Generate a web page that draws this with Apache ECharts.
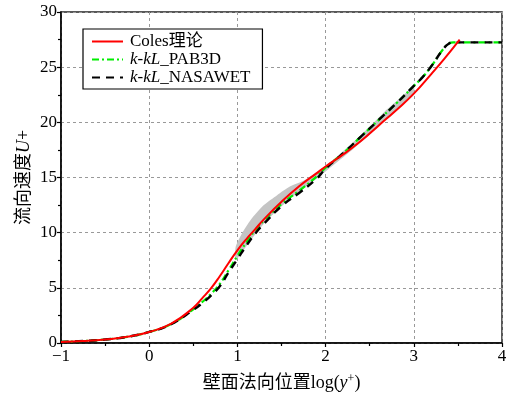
<!DOCTYPE html>
<html>
<head>
<meta charset="utf-8">
<script src="https://cdn.jsdelivr.net/npm/echarts@6/dist/echarts.min.js"></script>
<style>html,body{margin:0;padding:0;background:#fff;}#c{width:511px;height:399px;}</style>
</head>
<body>
<div id="c"></div>
<script>
// log(y+) positions and U+ values
const colesX = [-1, -0.75, -0.5, -0.25, 0, 0.25, 0.5, 0.6, 0.7, 0.8, 0.9, 1.0, 1.1, 1.2, 1.3, 1.5, 1.7, 1.9, 2.0, 2.2, 2.4, 2.6, 2.8, 3.0, 3.2, 3.35, 3.52];
const colesU = [0.1, 0.18, 0.32, 0.56, 1.0, 1.75, 3.2, 4.05, 4.95, 6.05, 7.25, 8.4, 9.4, 10.3, 11.2, 12.8, 14.2, 15.4, 16.0, 17.1, 18.3, 19.7, 21.1, 22.6, 24.4, 25.8, 27.5];

const cfdX = [-1, -0.75, -0.5, -0.25, 0, 0.25, 0.5, 0.6, 0.7, 0.8, 0.9, 1.0, 1.1, 1.2, 1.3, 1.5, 1.7, 1.9, 2.0, 2.2, 2.4, 2.6, 2.8, 3.0, 3.1, 3.2, 3.33, 3.4, 3.45, 3.6, 4.0];
const pab3dU = [0.1, 0.18, 0.32, 0.56, 1.0, 1.72, 3.05, 3.7, 4.45, 5.35, 6.6, 7.9, 9.1, 10.2, 11.1, 12.6, 13.8, 15.1, 15.9, 17.2, 18.7, 20.2, 21.7, 23.3, 24.1, 25.1, 26.6, 27.15, 27.25, 27.25, 27.25];
const nasawetU = [0.1, 0.18, 0.32, 0.56, 1.0, 1.71, 3.0, 3.6, 4.3, 5.15, 6.4, 7.6, 8.8, 9.9, 10.8, 12.4, 13.6, 14.9, 15.8, 17.2, 18.7, 20.2, 21.7, 23.3, 24.1, 25.1, 26.6, 27.15, 27.25, 27.25, 27.25];

// grey scatter band (lower and upper edges)
const bandX = [0.98, 1.05, 1.15, 1.3, 1.45, 1.6, 1.75, 1.9, 2.1, 2.3, 2.5, 2.7, 2.9, 3.0];
const bandLow = [7.5, 8.2, 9.3, 10.8, 12.0, 13.1, 14.0, 14.9, 16.2, 17.5, 18.9, 20.4, 21.8, 22.5];
const bandHigh = [8.7, 9.9, 11.15, 12.5, 13.4, 14.2, 14.7, 15.5, 16.7, 18.1, 19.6, 21.2, 22.6, 23.3];

const xTicks = [-1, 0, 1, 2, 3, 4];
const yTicks = [0, 5, 10, 15, 20, 25, 30];

const seriesNames = ['Coles理论', 'k-kL_PAB3D', 'k-kL_NASAWET'];

const pairs = (xs, ys) => xs.map((x, i) => [x, ys[i]]);
const FONT = "'Liberation Serif','Noto Sans CJK SC',serif";

const chart = echarts.init(document.getElementById('c'), null, {renderer: 'canvas'});
chart.setOption({
  animation: false,
  backgroundColor: '#fff',
  grid: {left: 61, right: 9, top: 12, bottom: 56, show: true, borderColor: '#222', borderWidth: 1.5, backgroundColor: 'transparent'},
  legend: {
    data: seriesNames,
    orient: 'vertical',
    left: 83, top: 29,
    padding: [4, 12, 3, 8],
    itemGap: 1,
    itemWidth: 31, itemHeight: 14,
    borderColor: '#000', borderWidth: 1.2, borderRadius: 0,
    backgroundColor: '#fff',
    itemStyle: {opacity: 0},
    formatter: function (n) {
      if (n.indexOf('k-kL_') === 0) return '{i|k-kL}_' + n.slice(5);
      return n;
    },
    textStyle: {
      fontFamily: FONT, fontSize: 17, color: '#000', padding: [0, 0, 0, 2],
      rich: {i: {fontFamily: FONT, fontSize: 17, fontStyle: 'italic', color: '#000'}}
    }
  },
  xAxis: {
    type: 'value', min: xTicks[0], max: xTicks[xTicks.length - 1], interval: 1,
    name: '壁面法向位置log({i|y}{s|+})',
    nameLocation: 'middle', nameGap: 30, nameMoveOverlap: false,
    nameTextStyle: {
      fontFamily: FONT, fontSize: 18, color: '#000',
      rich: {
        i: {fontFamily: FONT, fontSize: 18, fontStyle: 'italic', color: '#000'},
        s: {fontFamily: FONT, fontSize: 12, color: '#000', verticalAlign: 'top', padding: [0, 0, 8, 0]}
      }
    },
    axisLine: {show: true, onZero: false, lineStyle: {color: '#000', width: 1.5}},
    axisTick: {show: true, inside: false, length: 4, lineStyle: {color: '#000', width: 1.2}},
    minorTick: {show: true, splitNumber: 2, length: 3, lineStyle: {color: '#000', width: 1.2}},
    axisLabel: {fontFamily: FONT, fontSize: 17, color: '#000', margin: 5,
      formatter: v => (v < 0 ? '\u2212' + Math.abs(v) : String(v))},
    splitLine: {show: true, lineStyle: {color: '#999', type: [3, 3], width: 1}}
  },
  yAxis: {
    type: 'value', min: yTicks[0], max: yTicks[yTicks.length - 1], interval: 5,
    name: '流向速度{i|U}+',
    nameLocation: 'middle', nameGap: 28, nameRotate: 90, nameMoveOverlap: false,
    nameTextStyle: {
      fontFamily: FONT, fontSize: 18, color: '#000',
      rich: {i: {fontFamily: FONT, fontSize: 18, fontStyle: 'italic', color: '#000'}}
    },
    axisLine: {show: true, onZero: false, lineStyle: {color: '#000', width: 1.5}},
    axisTick: {show: true, inside: false, length: 4, lineStyle: {color: '#000', width: 1.2}},
    minorTick: {show: true, splitNumber: 2, length: 3, lineStyle: {color: '#000', width: 1.2}},
    axisLabel: {fontFamily: FONT, fontSize: 17, color: '#000', margin: 4},
    splitLine: {show: true, lineStyle: {color: '#999', type: [3, 3], width: 1}}
  },
  series: [
    {
      name: 'band', type: 'custom', silent: true, z: 1,
      data: [0],
      renderItem: function (params, api) {
        const pts = [];
        for (let i = 0; i < bandX.length; i++) pts.push(api.coord([bandX[i], bandHigh[i]]));
        for (let i = bandX.length - 1; i >= 0; i--) pts.push(api.coord([bandX[i], bandLow[i]]));
        return {type: 'polygon', shape: {points: pts, smooth: 0.2}, style: {fill: '#c4c4c4'}};
      }
    },
    {
      name: seriesNames[1], type: 'line', symbol: 'none', smooth: 0.5,
      data: pairs(cfdX, pab3dU), color: '#00ee00',
      lineStyle: {color: '#00ee00', width: 2.2, type: [7, 3, 2, 3]}, z: 3
    },
    {
      name: seriesNames[2], type: 'line', symbol: 'none', smooth: 0.5,
      data: pairs(cfdX, nasawetU), color: '#000',
      lineStyle: {color: '#000', width: 2.4, type: [8, 6]}, z: 4
    },
    {
      name: seriesNames[0], type: 'line', symbol: 'none', smooth: 0.5,
      data: pairs(colesX, colesU), color: '#ff0000',
      lineStyle: {color: '#ff0000', width: 2}, z: 5
    }
  ]
});
</script>
</body>
</html>
